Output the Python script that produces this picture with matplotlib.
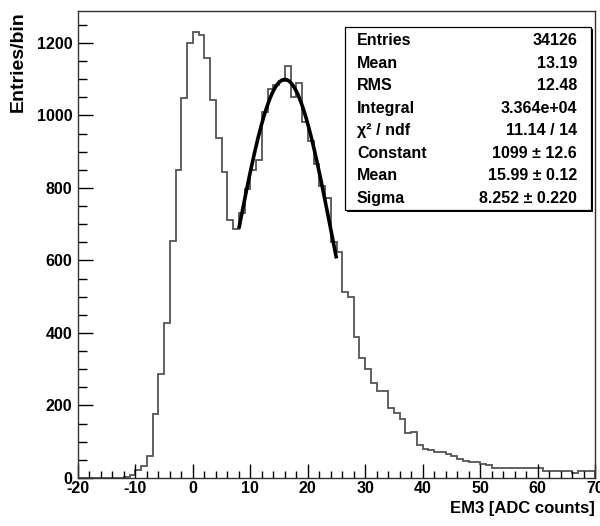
import numpy as np
import matplotlib

matplotlib.use("Agg")
import matplotlib.pyplot as plt
from matplotlib.patches import Rectangle
from matplotlib.ticker import MultipleLocator

# histogram: 1 ADC count per bin, from -20 to 70
bin_edges = np.arange(-20, 71, 1)
counts = [
    0, 0, 0, 0, 0, 0, 0, 0, 4, 8,                            # -20 .. -11
    22, 33, 62, 176, 288, 427, 653, 850, 1047, 1201,         # -10 .. -1
    1229, 1222, 1158, 1043, 937, 845, 712, 686, 730, 796,    # 0 .. 9
    850, 878, 1010, 1072, 1085, 1095, 1135, 1050, 1089, 983,  # 10 .. 19
    930, 865, 804, 771, 650, 624, 514, 500, 388, 330,        # 20 .. 29
    302, 263, 240, 240, 192, 180, 162, 125, 127, 91,         # 30 .. 39
    79, 77, 71, 71, 66, 60, 52, 48, 45, 45,                  # 40 .. 49
    38, 36, 28, 28, 28, 28, 28, 28, 28, 27,                  # 50 .. 59
    27, 20, 20, 20, 20, 20, 14, 19, 19, 19,                  # 60 .. 69
]

# gaussian fit parameters (from the stats box)
fit_constant = 1099.0
fit_mean = 15.99
fit_sigma = 8.252
fit_lo, fit_hi = 8.0, 25.0

stat_labels = ["Entries", "Mean", "RMS", "Integral", "χ² / ndf",
               "Constant", "Mean", "Sigma"]
stat_values = ["34126", "13.19", "12.48", "3.364e+04", "11.14 / 14",
               "1099 ± 12.6", "15.99 ± 0.12", "8.252 ± 0.220"]

plt.rcParams["font.family"] = ["Liberation Sans", "DejaVu Sans"]
plt.rcParams["font.weight"] = "bold"
plt.rcParams["axes.unicode_minus"] = False

W, H = 600, 526
fig = plt.figure(figsize=(W / 100, H / 100), dpi=100)


def fx(px):
    return px / W


def fy(py):
    return 1 - py / H


ax = fig.add_axes([fx(78), fy(478), (595 - 78) / W, (478 - 11) / H])

ax.stairs(counts, bin_edges, color="#555555", lw=1.3)
xf = np.linspace(fit_lo, fit_hi, 200)
yf = fit_constant * np.exp(-0.5 * ((xf - fit_mean) / fit_sigma) ** 2)
ax.plot(xf, yf, color="black", lw=2.6, solid_capstyle="butt")

ax.set_xlim(-20, 70)
ax.set_ylim(0, 1288)
ax.xaxis.set_major_locator(MultipleLocator(10))
ax.xaxis.set_minor_locator(MultipleLocator(2))
ax.yaxis.set_major_locator(MultipleLocator(200))
ax.yaxis.set_minor_locator(MultipleLocator(50))
ax.tick_params(axis="both", which="both", direction="in", top=False, right=False,
               labelsize=11.5, colors="black")
ax.tick_params(axis="x", which="major", length=10, width=1.0, pad=2)
ax.tick_params(axis="x", which="minor", length=5, width=1.0)
ax.tick_params(axis="y", which="major", length=11, width=1.0, pad=4)
ax.tick_params(axis="y", which="minor", length=6.5, width=1.0)
for lab in ax.get_xticklabels() + ax.get_yticklabels():
    lab.set_fontweight("bold")
for sp in ax.spines.values():
    sp.set_linewidth(1.0)
    sp.set_color("#333333")

ax.set_xlabel("EM3 [ADC counts]", loc="right", fontsize=12,
              fontweight="bold", labelpad=4)
ax.set_ylabel("Entries/bin", loc="top", fontsize=14,
              fontweight="bold", labelpad=7)

# stats box with ROOT-like shadow
bx0, by0, bx1, by1 = 345, 27, 591, 210
fig.patches.append(Rectangle((fx(bx0 + 2), fy(by1 + 2)), (bx1 - bx0) / W,
                             (by1 - by0) / H, transform=fig.transFigure,
                             facecolor="black", edgecolor="none", zorder=5))
fig.patches.append(Rectangle((fx(bx0), fy(by1)), (bx1 - bx0) / W,
                             (by1 - by0) / H, transform=fig.transFigure,
                             facecolor="white", edgecolor="black", lw=0.9,
                             zorder=6))
for i, (lab, val) in enumerate(zip(stat_labels, stat_values)):
    row_y = fy(40.7 + 22.5 * i)
    fig.text(fx(357), row_y, lab, ha="left", va="center", fontsize=11.5,
             fontweight="bold", zorder=7)
    fig.text(fx(577), row_y, val, ha="right", va="center", fontsize=11.5,
             fontweight="bold", zorder=7)

fig.savefig("out.png", dpi=100)
